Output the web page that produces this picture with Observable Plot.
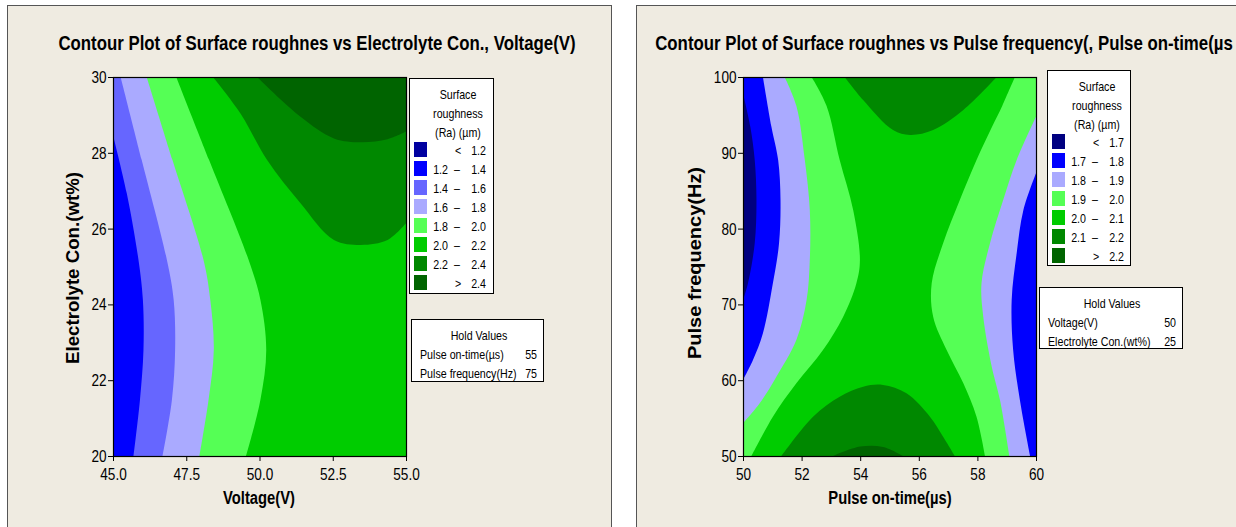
<!DOCTYPE html>
<html>
<head>
<meta charset="utf-8">
<script src="https://cdn.jsdelivr.net/npm/d3@7"></script>
<script src="https://cdn.jsdelivr.net/npm/@observablehq/plot@0.6"></script>
<style>
  body { margin: 0; width: 1236px; height: 527px; position: relative; overflow: hidden; background: #fff;
         font-family: "Liberation Sans", Arial, sans-serif; color: #000; }
  .panel { position: absolute; top: 5px; height: 540px; background: #efebe1; border: 1px solid #555; box-sizing: border-box; }
  .title { position: absolute; font-weight: bold; font-size: 20.5px; white-space: nowrap; line-height: 1; }
  .axlabel { position: absolute; font-weight: bold; font-size: 18px; white-space: nowrap; line-height: 1; }
  .box { position: absolute; background: #fff; border: 1px solid #000; box-sizing: border-box; font-size: 13px; }
  .t { position: absolute; white-space: nowrap; line-height: 1; }
  .c { transform-origin: 50% 50%; transform: translate(-50%, -50%) scaleX(0.82); }
  .l { transform-origin: 0 50%; transform: translate(0, -50%) scaleX(0.82); }
  .r { transform-origin: 100% 50%; transform: translate(-100%, -50%) scaleX(0.82); }
  .sw { position: absolute; }
  .plot { position: absolute; }
</style>
</head>
<body>
<div class="panel" style="left:7px;width:605px;"></div>
<div class="panel" style="left:636px;width:610px;"></div>
<div id="root"></div>
<script>
// ---------------- Left chart: Surface roughness vs Electrolyte Con., Voltage(V) ----------------
const leftTitle = "Contour Plot of Surface roughnes vs Electrolyte Con., Voltage(V)";
const leftXLabel = "Voltage(V)";
const leftYLabel = "Electrolyte Con.(wt%)";
const leftXDomain = [45, 55];
const leftYDomain = [20, 30];
const leftXTicks = [45, 47.5, 50, 52.5, 55];
const leftYTicks = [20, 22, 24, 26, 28, 30];
const leftBreaks = [1.2, 1.4, 1.6, 1.8, 2.0, 2.2, 2.4];
const leftHold = [["Pulse on-time(µs)", 55], ["Pulse frequency(Hz)", 75]];
// contour boundaries: [Voltage, Electrolyte Con.]
const leftLine14 = [[45.00, 28.47], [45.47, 26.93], [45.87, 25.17], [46.02, 24.12], [46.04, 22.80], [45.92, 21.48], [45.70, 20.00]];
const leftLine16 = [[45.26, 30.00], [45.98, 27.81], [46.84, 25.17], [47.07, 24.12], [47.12, 22.80], [47.01, 21.48], [46.69, 20.00]];
const leftLine18 = [[46.15, 30.00], [47.03, 27.81], [48.09, 25.17], [48.32, 24.12], [48.44, 22.80], [48.26, 21.48], [47.95, 20.00]];
const leftLine20 = [[47.16, 30.00], [48.28, 27.81], [49.63, 25.17], [50.03, 24.12], [50.23, 22.80], [50.03, 21.48], [49.54, 20.00]];
const leftLine22 = [[48.41, 30.00], [49.35, 29.04], [50.26, 27.81], [51.40, 26.67], [52.54, 25.70], [53.46, 25.57], [54.37, 25.70], [55.00, 26.14]];
const leftLine24 = [[49.92, 30.00], [51.40, 28.95], [52.54, 28.38], [53.46, 28.28], [54.37, 28.36], [55.00, 28.56]];

// ---------------- Right chart: Surface roughness vs Pulse frequency, Pulse on-time ----------------
const rightTitle = "Contour Plot of Surface roughnes vs Pulse frequency(, Pulse on-time(µs";
const rightXLabel = "Pulse on-time(µs)";
const rightYLabel = "Pulse frequency(Hz)";
const rightXDomain = [50, 60];
const rightYDomain = [50, 100];
const rightXTicks = [50, 52, 54, 56, 58, 60];
const rightYTicks = [50, 60, 70, 80, 90, 100];
const rightBreaks = [1.7, 1.8, 1.9, 2.0, 2.1, 2.2];
const rightHold = [["Voltage(V)", 50], ["Electrolyte Con.(wt%)", 25]];
// contour boundaries: [Pulse on-time, Pulse frequency]
const rightLine17L = [[50.00, 97.85], [50.25, 93.44], [50.40, 89.05], [50.46, 83.77], [50.40, 78.06], [50.17, 72.78], [50.00, 70.58]];
const rightLine18L = [[50.68, 100.0], [50.97, 93.44], [51.20, 89.05], [51.28, 83.77], [51.23, 78.06], [51.02, 72.78], [50.68, 66.19], [50.34, 62.66], [50.00, 60.03]];
const rightLine19L = [[51.42, 100.0], [51.82, 96.22], [52.11, 89.05], [52.28, 82.45], [52.28, 75.86], [52.17, 70.58], [51.82, 65.30], [51.14, 60.46], [50.57, 56.95], [50.00, 54.31]];
const rightLine20L = [[52.34, 100.0], [52.85, 96.22], [53.30, 89.05], [53.76, 82.45], [53.99, 75.86], [53.87, 72.78], [53.42, 68.38], [52.73, 63.98], [51.82, 59.59], [51.02, 55.19], [50.29, 50.00]];
const rightLine20R = [[59.28, 100.0], [58.85, 96.22], [58.50, 93.44], [57.97, 89.05], [57.40, 83.77], [56.83, 78.06], [56.44, 72.78], [56.49, 68.38], [56.95, 63.98], [57.52, 59.59], [57.97, 55.19], [58.26, 50.00]];
const rightLine19R = [[60.00, 94.77], [59.34, 89.05], [58.88, 83.77], [58.43, 78.06], [58.14, 72.78], [58.20, 68.38], [58.49, 61.78], [58.77, 57.39], [59.09, 50.00]];
const rightLine18R = [[60.00, 87.29], [59.57, 82.45], [59.34, 76.74], [59.17, 70.58], [59.22, 63.98], [59.45, 57.39], [59.80, 50.00]];
const rightLine21T = [[53.47, 100.0], [54.10, 96.97], [55.12, 93.00], [55.70, 92.35], [56.49, 93.00], [57.52, 95.65], [58.66, 100.0]];
const rightLine21B = [[51.31, 50.00], [52.39, 55.19], [53.30, 57.83], [54.10, 59.15], [54.78, 59.37], [55.58, 58.27], [56.38, 55.19], [56.83, 52.55], [57.23, 50.00]];
const rightLine22B = [[53.07, 50.00], [54.00, 51.25], [54.78, 51.20], [55.47, 50.00]];

// ---------------- styles ----------------
const leftColors = ["#0000a0", "#0000ff", "#6666ff", "#aaaaff", "#55ff55", "#00cc00", "#008800", "#006400"];
const rightColors = ["#000080", "#0000ff", "#aaaaff", "#55ff55", "#00cc00", "#008800", "#006400"];
const FONT = '"Liberation Sans", Arial, sans-serif';
const NARROW = 0.8;
const CURVE = "catmull-rom";
const root = document.getElementById("root");

function el(cls, css, text) {
  const d = document.createElement("div");
  d.className = cls;
  Object.assign(d.style, css);
  if (text != null) d.textContent = text;
  return d;
}

// rotated axis title stretched to the length it has in the reference
function yTitle(text, cx, cy, length) {
  const d = el("axlabel t", {left: cx + "px", top: cy + "px", transformOrigin: "50% 50%"}, text);
  root.appendChild(d);
  const k = length / d.offsetWidth;
  d.style.transform = `translate(-50%, -50%) rotate(-90deg) scaleX(${k})`;
}

const fromLeft = (line, xDom, fill) => Plot.areaX(line, {y: d => d[1], x1: () => xDom[0], x2: d => d[0], fill, curve: CURVE, clip: true});
const fromRight = (line, xDom, fill) => Plot.areaX(line, {y: d => d[1], x1: d => d[0], x2: () => xDom[1], fill, curve: CURVE, clip: true});
const fromTop = (line, yDom, fill) => Plot.areaY(line, {x: d => d[0], y1: d => d[1], y2: () => yDom[1], fill, curve: CURVE, clip: true});
const fromBottom = (line, yDom, fill) => Plot.areaY(line, {x: d => d[0], y1: () => yDom[0], y2: d => d[1], fill, curve: CURVE, clip: true});

function makePlot(opts) {
  const svg = Plot.plot({
    width: 406, height: 456,
    marginLeft: 93, marginRight: 20, marginTop: 17, marginBottom: 60,
    style: {background: "transparent", fontFamily: FONT, fontSize: "17px", color: "#000", overflow: "visible"},
    x: {domain: opts.xDomain},
    y: {domain: opts.yDomain},
    marks: [
      ...opts.marks,
      Plot.frame({stroke: "#000", strokeWidth: 1.2}),
      Plot.axisX({ticks: opts.xTicks, tickFormat: opts.xFormat, tickSize: 5, tickPadding: 6, label: null}),
      Plot.axisY({ticks: opts.yTicks, tickFormat: d => String(d), tickSize: 5, tickPadding: 2, label: null})
    ]
  });
  // narrow the tick-label glyphs (Arial Narrow look)
  svg.querySelectorAll("text").forEach(t => {
    let tr = t.getAttribute("transform") || "";
    const x = t.getAttribute("x");
    if (x != null && !isNaN(+x)) { tr += ` translate(${+x},0)`; t.removeAttribute("x"); }
    t.setAttribute("transform", (tr + ` scale(${NARROW},1)`).trim());
  });
  svg.classList.add("plot");
  svg.style.left = opts.left + "px";
  svg.style.top = "60px";
  root.appendChild(svg);
}

function legend(x, y, w, h, breaks, colors, titleX) {
  const box = el("box", {left: x + "px", top: y + "px", width: w + "px", height: h + "px"});
  ["Surface", "roughness", "(Ra) (µm)"].forEach((s, i) => box.appendChild(el("t c", {left: titleX + "px", top: (14.5 + 19 * i) + "px"}, s)));
  const n = breaks.length + 1;
  for (let i = 0; i < n; i++) {
    const cy = 63 + 19 * i;
    box.appendChild(el("sw", {left: "3.5px", top: cy + "px", width: "13px", height: "15px", background: colors[i]}));
    const ty = (cy + 7.5) + "px";
    if (i === 0) {
      box.appendChild(el("t c", {left: "47.5px", top: ty}, "<"));
      box.appendChild(el("t r", {left: "76px", top: ty}, breaks[0].toFixed(1)));
    } else if (i === n - 1) {
      box.appendChild(el("t c", {left: "47.5px", top: ty}, ">"));
      box.appendChild(el("t r", {left: "76px", top: ty}, breaks[n - 2].toFixed(1)));
    } else {
      box.appendChild(el("t r", {left: "38px", top: ty}, breaks[i - 1].toFixed(1)));
      box.appendChild(el("t c", {left: "47px", top: ty}, "–"));
      box.appendChild(el("t r", {left: "76px", top: ty}, breaks[i].toFixed(1)));
    }
  }
  root.appendChild(box);
}

function holdBox(x, y, w, h, rows) {
  const box = el("box", {left: x + "px", top: y + "px", width: w + "px", height: h + "px"});
  box.appendChild(el("t c", {left: (w / 2) + "px", top: "14.5px"}, "Hold Values"));
  rows.forEach(([name, v], i) => {
    box.appendChild(el("t l", {left: "7.5px", top: (33.5 + 19 * i) + "px"}, name));
    box.appendChild(el("t r", {left: (w - 8) + "px", top: (33.5 + 19 * i) + "px"}, String(v)));
  });
  root.appendChild(box);
}

// ----- left chart -----
makePlot({
  left: 20, xDomain: leftXDomain, yDomain: leftYDomain, xTicks: leftXTicks, yTicks: leftYTicks,
  xFormat: d3.format(".1f"),
  marks: [
    Plot.frame({fill: leftColors[5], stroke: null}),
    fromLeft(leftLine20, leftXDomain, leftColors[4]),
    fromLeft(leftLine18, leftXDomain, leftColors[3]),
    fromLeft(leftLine16, leftXDomain, leftColors[2]),
    fromLeft(leftLine14, leftXDomain, leftColors[1]),
    fromTop(leftLine22, leftYDomain, leftColors[6]),
    fromTop(leftLine24, leftYDomain, leftColors[7])
  ]
});
root.appendChild(el("title t c", {left: "317px", top: "43px"}, leftTitle));
root.appendChild(el("axlabel t c", {left: "259px", top: "498px"}, leftXLabel));
yTitle(leftYLabel, 73, 268, 192);
legend(409, 78, 85, 216, leftBreaks, leftColors, 48);
holdBox(411, 319, 133, 63, leftHold);

// ----- right chart -----
makePlot({
  left: 650, xDomain: rightXDomain, yDomain: rightYDomain, xTicks: rightXTicks, yTicks: rightYTicks,
  xFormat: d => String(d),
  marks: [
    Plot.frame({fill: rightColors[4], stroke: null}),
    fromLeft(rightLine20L, rightXDomain, rightColors[3]),
    fromLeft(rightLine19L, rightXDomain, rightColors[2]),
    fromLeft(rightLine18L, rightXDomain, rightColors[1]),
    fromLeft(rightLine17L, rightXDomain, rightColors[0]),
    fromRight(rightLine20R, rightXDomain, rightColors[3]),
    fromRight(rightLine19R, rightXDomain, rightColors[2]),
    fromRight(rightLine18R, rightXDomain, rightColors[1]),
    fromTop(rightLine21T, rightYDomain, rightColors[5]),
    fromBottom(rightLine21B, rightYDomain, rightColors[5]),
    fromBottom(rightLine22B, rightYDomain, rightColors[6])
  ]
});
root.appendChild(el("title t c", {left: "944px", top: "43px"}, rightTitle));
root.appendChild(el("axlabel t c", {left: "889.5px", top: "498px"}, rightXLabel));
yTitle(rightYLabel, 695, 263, 192);
legend(1047, 70, 84, 196, rightBreaks, rightColors, 49);
holdBox(1039, 287, 144, 62, rightHold);
</script>
</body>
</html>
